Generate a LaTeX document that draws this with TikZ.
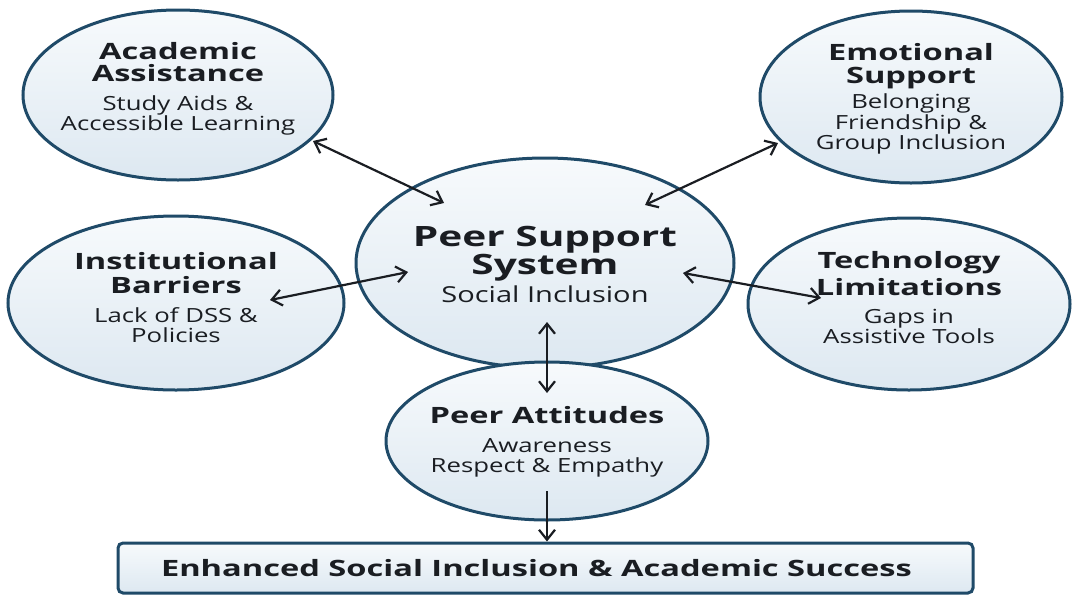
\documentclass[tikz,border=0pt]{standalone}
\usepackage{fontspec}
\setmainfont{Open Sans}[FakeStretch=1.45]
\newfontfamily\subfam{Open Sans}[FakeStretch=1.32]
\usepackage{tikz}
\usetikzlibrary{shapes.geometric,arrows.meta,calc}
\tikzset{>={Straight Barb[length=10pt,width=16pt]}}
\definecolor{rim}{HTML}{1F4A68}
\definecolor{paletop}{HTML}{F7FAFC}
\definecolor{palebot}{HTML}{DDE8F1}
\definecolor{ink}{HTML}{1A1D22}
\newcommand{\ttl}{\rmfamily\bfseries\fontsize{22.5}{23}\selectfont}
\newcommand{\subt}{\subfam\fontsize{19.5}{20.5}\selectfont}
\newcommand{\bigttl}{\rmfamily\bfseries\fontsize{28}{27}\selectfont}

\begin{document}
\begin{tikzpicture}[x=1pt,y=-1pt,
    bubble/.style={ellipse,draw=rim,line width=3pt,top color=paletop,bottom color=palebot,inner sep=0pt},
    txt/.style={align=center,text=ink,inner sep=0pt,font=\subt},
    link/.style={<->,line width=2.2pt,draw=ink}]
  \useasboundingbox (0,0) rectangle (1074,595);
  % the five themes round the centre
  \node[bubble,minimum width=310pt,minimum height=170pt] (acad) at (178,95) {};
  \node[bubble,minimum width=302pt,minimum height=172pt] (emo) at (911,97) {};
  \node[bubble,minimum width=336pt,minimum height=174pt] (inst) at (176,303) {};
  \node[bubble,minimum width=322pt,minimum height=172pt] (tech) at (909,304) {};
  \node[bubble,minimum width=378pt,minimum height=210pt] (psys) at (545,263) {};
  \node[bubble,minimum width=322pt,minimum height=158pt] (att) at (547,441) {};
  \node[draw=rim,line width=3pt,rounded corners=5pt,top color=paletop,bottom color=palebot,
        minimum width=855pt,minimum height=50pt,text=ink] (goal) at (545.5,568)
        {\ttl Enhanced Social Inclusion \& Academic Success\hspace*{18pt}};

  \node[txt] (acadtxt) at ($(acad)+(0,-6)$) {\ttl Academic\\[1.5pt]\ttl Assistance\\[8pt]Study Aids \&\\Accessible Learning};
  \node[txt] (emotxt) at ($(emo)+(0,2)$) {\ttl Emotional\\[2.5pt]\ttl Support\\[5pt]Belonging\\Friendship \&\\Group Inclusion};
  \node[txt] (insttxt) at ($(inst)+(0,-5)$) {\ttl Institutional\\[3pt]\ttl Barriers\\[8.5pt]Lack of DSS \&\\Policies};
  \node[txt] (techtxt) at ($(tech)+(0,-6)$) {\ttl Technology\\[3pt]\ttl Limitations\\[7.5pt]Gaps in\\Assistive Tools};
  \node[txt,font=\subfam\fontsize{22}{27}\selectfont] (psystxt) at ($(psys)+(0,1)$) {\bigttl Peer Support\\\bigttl System\\[1pt]Social Inclusion};
  \node[txt] (atttxt) at ($(att)+(0,1)$) {\ttl Peer Attitudes\\[8.5pt]Awareness\\Respect \& Empathy};

  \begin{scope}[link]
    \draw ($(acad)+(135,46)$) -- ($(psys)+(-101,-60)$);
    \draw ($(emo)+(-133,46)$) -- ($(psys)+(100,-58)$);
    \draw ($(inst)+(94,-3)$) -- ($(psys)+(-137,9)$);
    \draw ($(tech)+(-88,-6)$) -- ($(psys)+(138,10)$);
    \draw ($(psys)+(2,59)$) -- ($(att)+(0,-48)$);
  \end{scope}
  \draw[->,line width=2.2pt,draw=ink] ($(att)+(0,50)$) -- (goal.north -| att);
\end{tikzpicture}
\end{document}
